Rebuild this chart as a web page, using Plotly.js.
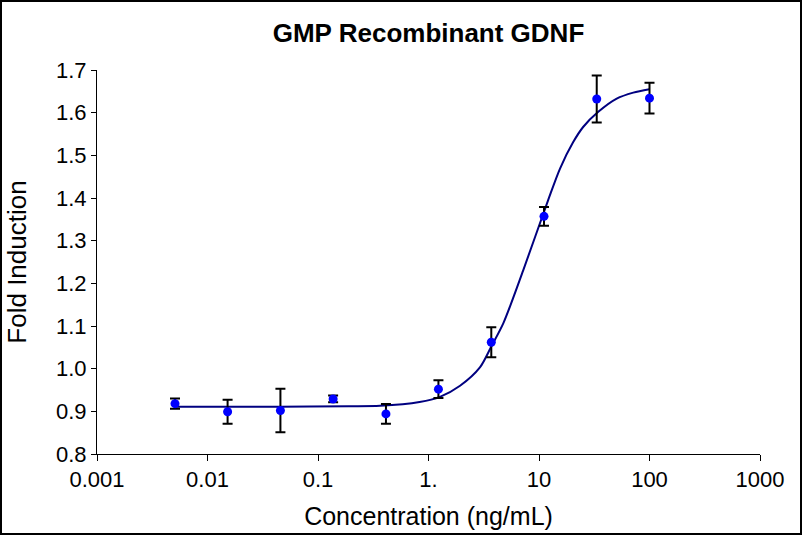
<!DOCTYPE html>
<html>
<head>
<meta charset="utf-8">
<script src="https://cdn.plot.ly/plotly-3.0.1.min.js"></script>
<style>html,body{margin:0;padding:0;background:#fff;}#chart{width:802px;height:535px;}</style>
</head>
<body>
<div id="chart"></div>
<script>
// Measured data (concentration in ng/mL)
const concentrations = [0.00508, 0.0152, 0.0457, 0.137, 0.412, 1.23, 3.70, 11.1, 33.3, 100];
const foldInduction = [0.918, 0.899, 0.902, 0.929, 0.894, 0.952, 1.062, 1.357, 1.632, 1.634];
const errorValues = [0.012, 0.028, 0.051, 0.008, 0.023, 0.021, 0.035, 0.022, 0.055, 0.036];

// Fitted curve
const curveConc = [0.005, 0.045, 0.19, 0.364, 0.83, 1.27, 1.93, 2.92, 3.7, 4.75, 7.21, 12.1, 15.5, 20.4, 25.2, 34.4, 50.5, 71.3, 100];
const curveFold = [0.911, 0.911, 0.912, 0.913, 0.922, 0.934, 0.960, 1.003, 1.052, 1.106, 1.231, 1.395, 1.469, 1.531, 1.567, 1.602, 1.633, 1.647, 1.655];

const xTickVals = [0.001, 0.01, 0.1, 1, 10, 100, 1000];
const xTickText = ["0.001", "0.01", "0.1", "1.", "10", "100", "1000"];
const yTickVals = [0.8, 0.9, 1.0, 1.1, 1.2, 1.3, 1.4, 1.5, 1.6, 1.7];

const W = 802, H = 535;
const M = {l: 97, r: 42, t: 70, b: 81};
const pw = W - M.l - M.r, ph = H - M.t - M.b;

const traces = [
  {
    x: curveConc, y: curveFold, type: 'scatter', mode: 'lines',
    line: {color: '#000080', width: 2, shape: 'spline', smoothing: 0.8},
    hoverinfo: 'skip', showlegend: false
  },
  {
    x: concentrations, y: foldInduction, type: 'scatter', mode: 'markers',
    marker: {color: '#0000FF', size: 9},
    error_y: {type: 'data', array: errorValues, visible: true, color: '#000000', thickness: 2, width: 5},
    showlegend: false
  }
];

const font = {family: 'Liberation Sans, Arial, sans-serif', color: '#000'};

const layout = {
  width: W, height: H,
  margin: M,
  paper_bgcolor: '#fff', plot_bgcolor: '#fff',
  font: font,
  title: {text: '<b>GMP Recombinant GDNF</b>', font: {family: font.family, size: 26, color: '#000'}, x: 0.5, xref: 'paper', xanchor: 'center', y: 1 - 33 / H, yanchor: 'middle'},
  xaxis: {
    type: 'log', range: [-3, 3],
    tickmode: 'array', tickvals: xTickVals, ticktext: xTickText,
    ticks: 'outside', ticklen: 6, tickwidth: 1, tickcolor: '#000',
    showline: true, linecolor: '#000', linewidth: 1, showgrid: false, zeroline: false,
    tickfont: {family: font.family, size: 22, color: '#000'},
    title: {text: 'Concentration (ng/mL)', font: {family: font.family, size: 25, color: '#000'}, standoff: 16}
  },
  yaxis: {
    range: [0.8, 1.7],
    tickmode: 'array', tickvals: yTickVals, tickformat: '.1f',
    ticks: 'outside', ticklen: 5, tickwidth: 1, tickcolor: '#000',
    showline: true, linecolor: '#000', linewidth: 1, showgrid: false, zeroline: false,
    tickfont: {family: font.family, size: 22, color: '#000'},
    title: {text: 'Fold Induction', font: {family: font.family, size: 26, color: '#000'}, standoff: 21}
  },
  shapes: [{
    type: 'rect', xref: 'paper', yref: 'paper',
    x0: (-M.l + 1) / pw, x1: 1 + (M.r - 1) / pw,
    y0: (-M.b + 1) / ph, y1: 1 + (M.t - 1) / ph,
    line: {color: '#000', width: 2}, fillcolor: 'rgba(0,0,0,0)', layer: 'above'
  }]
};

Plotly.newPlot('chart', traces, layout, {displayModeBar: false, staticPlot: true});
</script>
</body>
</html>
